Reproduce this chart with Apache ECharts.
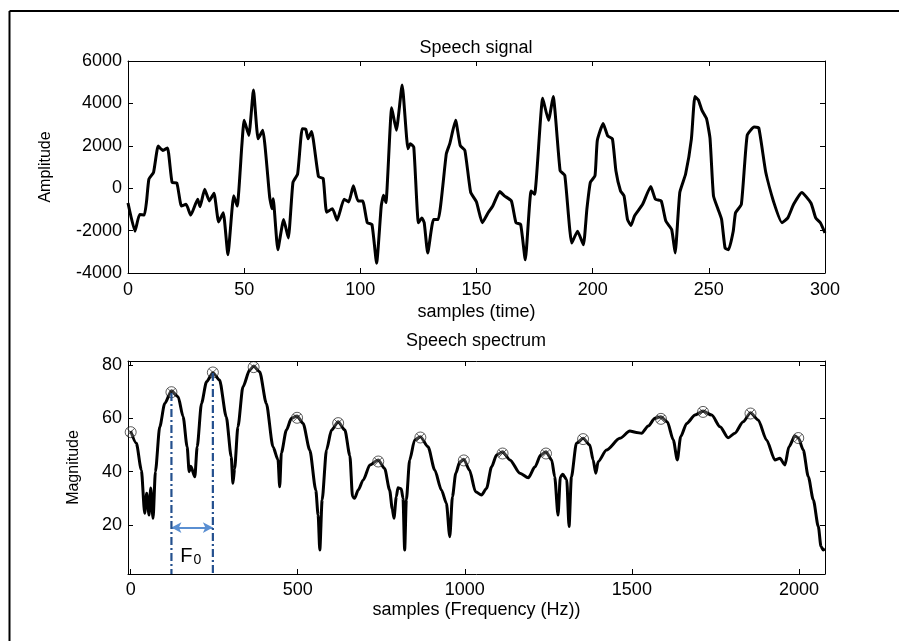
<!DOCTYPE html>
<html>
<head>
<meta charset="utf-8">
<script src="https://cdn.jsdelivr.net/npm/echarts@6/dist/echarts.min.js"></script>
<style>html,body{margin:0;padding:0;background:#fff;overflow:hidden}#c{width:899px;height:641px}</style>
</head>
<body>
<div id="c"></div>
<script>
// ---- Speech signal (time domain) ----
const sigX = [0,3,5,7,8,9,11,13,15,17,19,21,23,25,27,30,31,33,35,37,39,41,43,45.5,47,49,50,52,54,56,58,61,62,62.5,64.5,67,69,71,73,75,76.5,77.5,79,82,84,85.5,88,90,93,95,97,99,101,103,105,107,109,110,111,113.5,115.5,118,120.5,121.5,123,125,126.5,127.5,129,131.5,133.5,137,138.5,141,143,145,147.5,150,152.5,155,157,160,162,165,167,169,171,173.5,175,178.5,181,183,186,188,191,193.5,196,197.5,199,201,202,204.5,206.5,208.5,210,212,213.5,215,216.5,218,221.5,225,227,229.5,231.5,234,235.5,237.5,240,242.5,244,245.5,247,249,250.5,252,254,255.5,257,258.5,260.5,261.5,264,266.5,269.5,271.5,274.5,278,281.5,284,286.5,290,294,296,298,300];
const sigY = [-700,-2030,-1240,-1270,-600,430,750,1985,1780,1900,270,250,-840,-760,-1270,-520,-870,-50,-600,-240,-1590,-1160,-3140,-360,-840,2015,3200,2490,4630,2330,2730,-440,-970,-500,-2900,-1475,-2350,270,670,2810,2780,2330,2680,540,460,-1130,-970,-1510,-520,-650,110,-600,-600,-1630,-1710,-3540,-840,-330,-680,3790,2730,4870,1860,2100,1940,-1630,-1400,-1630,-3060,-1475,-1475,1620,2100,3200,2015,1780,-200,-650,-1630,-1160,-840,-160,-360,-600,-1630,-1710,-3380,-130,-290,4240,3200,4320,825,610,-2590,-2030,-2670,-1000,270,590,2250,3050,2460,2330,825,-130,-360,-1475,-1760,-1310,-760,80,-520,-600,-1550,-1950,-3060,-200,670,2330,4320,4160,3680,3280,2360,-360,-1000,-1475,-2830,-2900,-2030,-1160,-760,2490,2890,2840,750,-680,-1630,-1400,-760,-200,-710,-1400,-1630,-2110];
const sigTicksX = [0,50,100,150,200,250,300];
const sigTicksY = [-4000,-2000,0,2000,4000,6000];

// ---- Speech spectrum ----
const specX = [0,17,32,42,48,55,60,67,74,87,102,122,142,157,169,175,180,192,199,212,227,246,266,286,301,306,311,321,336,356,368,386,406,426,441,446,451,466,481,498,516,536,554,561,566,573,586,601,621,641,656,664,670,681,696,716,741,760,775,783,788,795,800,810,815,820,825,835,850,867,890,910,930,945,955,963,973,985,997,1014,1032,1050,1065,1080,1095,1113,1135,1165,1190,1210,1227,1243,1260,1269,1279,1286,1293,1305,1312,1319,1334,1354,1374,1384,1392,1399,1424,1464,1494,1514,1529,1549,1569,1587,1606,1624,1636,1646,1664,1689,1713,1739,1764,1788,1808,1833,1855,1878,1903,1928,1943,1958,1970,1988,1998,2013,2028,2043,2058,2066,2073,2078];
const specY = [55.2,50.6,40.6,24.4,31.9,23.7,33.9,22.5,40,56.8,65.6,70.3,68.1,60.6,49.3,40,42,38.1,49.3,65.6,73.7,77.1,74.4,60.6,45.6,35.6,41,56.8,71.8,78.1,79.6,77.5,65.6,49.3,44.4,34.3,47,55.6,60,60.9,58.1,48.1,33.1,23.7,10.6,29.4,48.1,55.6,58.7,55.6,46,30.6,30,33.1,36.9,42.5,44.4,41.2,33.1,26,22.5,30.6,34,33.5,30,10.6,29.4,44.4,51.9,53.1,49.3,40.6,33.1,28.1,15.6,30.6,39.4,43.7,44.6,40.6,32.5,31.2,33.7,41.8,46.2,47.5,44.4,39.4,37.7,41.8,46.2,47.5,44.4,38.1,23.7,38,39,37,19.4,38,50.6,52.5,50,44.4,39.4,43.7,48.1,52.5,55.2,54.7,54.4,57.1,60,60.6,58.7,51.9,44.4,53.1,58.1,61.2,62.7,61.2,56.8,52.7,54.4,58.7,62.1,59.4,51.9,44.4,45,42.5,49.3,53.4,52.7,48.1,38.1,29.4,19.4,11.9,10.6,11];
const peakX = [0,122,246,368,498,621,741,867,997,1113,1243,1354,1587,1713,1855,1998];
const peakY = [54.8,69.8,77.2,79.2,60.2,58.2,43.8,52.8,44.2,46.8,46.8,52.2,59.8,62.4,61.8,52.6];
const specTicksX = [0,500,1000,1500,2000];
const specTicksY = [20,40,60,80];

// F0 annotation
const f0X = [122, 246];
const f0Top = [69.5, 77];
const f0Base = 1.6;
const arrowY = 19;
const f0Label = [180, 8.3];

const X0 = [0, 300], Y0 = [-4000, 6000];
const X1 = [-8, 2078], Y1 = [1.6, 81.5];
const FONT = 'Liberation Sans, Arial, sans-serif';
const FS = 18;

const chart = echarts.init(document.getElementById('c'));
const plain = v => String(v);

function axis(o) {
  const ticks = o.ticks;
  const a = {
    type: 'value', gridIndex: o.grid, min: o.min, max: o.max, position: o.position,
    axisLine: {show: true, onZero: false, lineStyle: {color: '#000', width: 1}},
    axisTick: {show: true, inside: true, length: 5, lineStyle: {color: '#000', width: 1}, customValues: ticks},
    splitLine: {show: false},
    axisLabel: o.labels ? {color: '#000', fontFamily: FONT, fontSize: FS, margin: o.margin,
      customValues: ticks, formatter: plain} : {show: false}
  };
  if (o.name) {
    a.name = o.name; a.nameLocation = 'middle'; a.nameGap = o.nameGap;
    a.nameTextStyle = {color: '#000', fontFamily: FONT, fontSize: o.nameSize || FS};
  }
  return a;
}

const borders = [
  {type: 'line', shape: {x1: 9.5, y1: 11, x2: 899, y2: 11}, style: {stroke: '#000', lineWidth: 2}, silent: true},
  {type: 'line', shape: {x1: 9.5, y1: 11, x2: 9.5, y2: 641}, style: {stroke: '#000', lineWidth: 2}, silent: true}
];

const option = {
  animation: false,
  backgroundColor: '#fff',
  title: [
    {text: 'Speech signal', left: 476, top: 39, textAlign: 'center', padding: 0,
     textStyle: {fontFamily: FONT, fontSize: FS, fontWeight: 'normal', color: '#000'}},
    {text: 'Speech spectrum', left: 476, top: 332, textAlign: 'center', padding: 0,
     textStyle: {fontFamily: FONT, fontSize: FS, fontWeight: 'normal', color: '#000'}}
  ],
  graphic: borders,
  grid: [
    {left: 128, top: 61, width: 697, height: 212},
    {left: 128, top: 361, width: 697, height: 213}
  ],
  xAxis: [
    axis({grid: 0, min: X0[0], max: X0[1], position: 'bottom', ticks: sigTicksX, labels: true, margin: 8,
      name: 'samples (time)', nameGap: 30}),
    axis({grid: 0, min: X0[0], max: X0[1], position: 'top', ticks: sigTicksX}),
    axis({grid: 1, min: X1[0], max: X1[1], position: 'bottom', ticks: specTicksX, labels: true, margin: 7,
      name: 'samples (Frequency (Hz))', nameGap: 27}),
    axis({grid: 1, min: X1[0], max: X1[1], position: 'top', ticks: specTicksX})
  ],
  yAxis: [
    axis({grid: 0, min: Y0[0], max: Y0[1], position: 'left', ticks: sigTicksY, labels: true, margin: 6,
      name: 'Amplitude', nameGap: 74, nameSize: 16}),
    axis({grid: 0, min: Y0[0], max: Y0[1], position: 'right', ticks: sigTicksY}),
    axis({grid: 1, min: Y1[0], max: Y1[1], position: 'left', ticks: specTicksY, labels: true, margin: 6,
      name: 'Magnitude', nameGap: 46, nameSize: 16}),
    axis({grid: 1, min: Y1[0], max: Y1[1], position: 'right', ticks: specTicksY})
  ],
  series: [
    {type: 'line', name: 'signal', xAxisIndex: 0, yAxisIndex: 0, showSymbol: false, symbol: 'none',
     smooth: 0.15, data: sigX.map((x, i) => [x, sigY[i]]), lineStyle: {color: '#000', width: 3}, z: 3},
    {type: 'line', name: 'spectrum', xAxisIndex: 2, yAxisIndex: 2, showSymbol: false, symbol: 'none',
     smooth: 0.25, smoothMonotone: 'x',
     data: specX.map((x, i) => [x, specY[i]]), lineStyle: {color: '#000', width: 3}, z: 3},
    {type: 'scatter', name: 'peaks', xAxisIndex: 2, yAxisIndex: 2,
     symbol: 'path://M10,0A10,10,0,1,1,10,20A10,10,0,1,1,10,0ZM3,3L17,17M17,3L3,17',
     symbolSize: 11, data: peakX.map((x, i) => [x, peakY[i]]),
     itemStyle: {color: 'rgba(255,255,255,0.3)', borderColor: '#000', borderWidth: 0.8}, z: 4},
    ...f0X.map((x, i) => ({
      type: 'line', xAxisIndex: 2, yAxisIndex: 2, symbol: 'none', showSymbol: false,
      data: [[x, f0Top[i]], [x, f0Base]],
      lineStyle: {color: '#24508e', width: 2.2, type: [8, 3, 2, 3]}, z: 5,
      markLine: i === 0 ? {silent: true, symbol: ['arrow', 'arrow'], symbolSize: [8, 10],
        label: {show: false},
        lineStyle: {color: '#5a8fd2', width: 1.8, type: 'solid'},
        data: [[{coord: [f0X[0], arrowY]}, {coord: [f0X[1], arrowY]}]]} : undefined
    }))
  ]
};
chart.setOption(option);

// F0 text placed through the spectrum axes
const p = chart.convertToPixel({xAxisIndex: 2, yAxisIndex: 2}, f0Label);
chart.setOption({
  graphic: borders.concat([{
    type: 'text', x: p[0], y: p[1], silent: true, z: 10,
    style: {text: '{a|F}{b|0}', x: 0, y: 0, align: 'center', verticalAlign: 'middle',
      fill: '#000',
      rich: {a: {fontFamily: FONT, fontSize: 20, fill: '#000'},
             b: {fontFamily: FONT, fontSize: 14, fill: '#000', padding: [8, 0, 0, 1]}}}
  }])
});
</script>
</body>
</html>
